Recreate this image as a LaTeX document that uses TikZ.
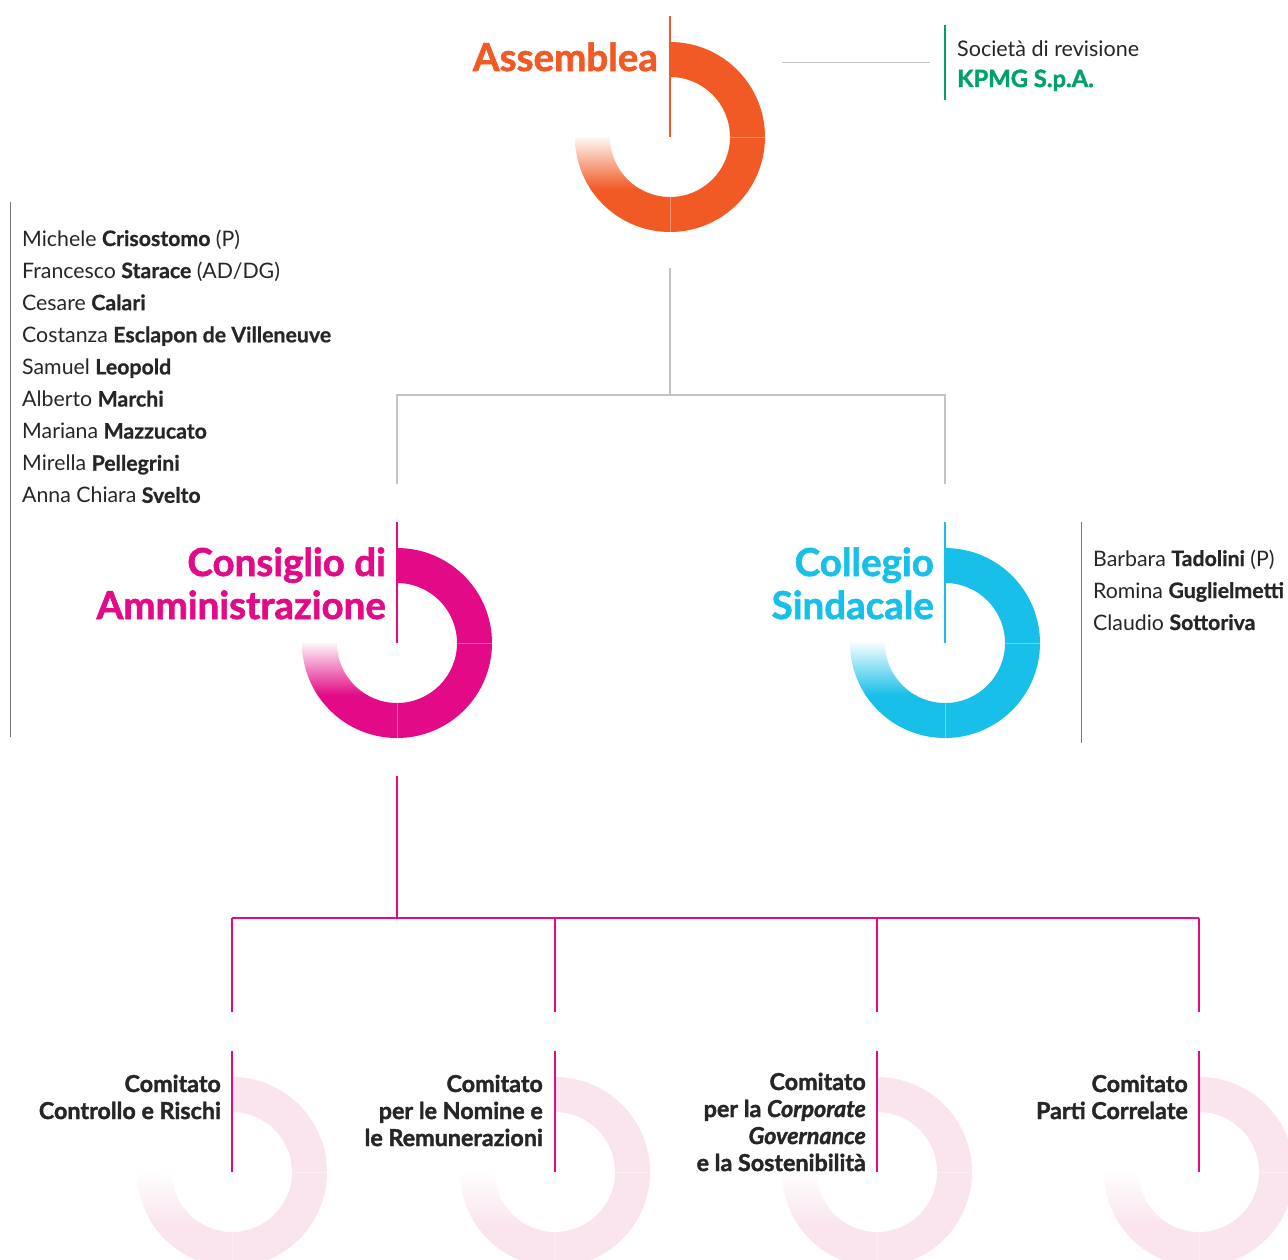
\documentclass[tikz,border=0pt]{standalone}
\usepackage{fontspec}
\setmainfont{Lato}[BoldFeatures={FakeBold=0.8}]
\newfontfamily\heavyfont{Lato}[BoldFeatures={FakeBold=1.6},BoldItalicFeatures={FakeBold=1.6}]
\definecolor{assorange}{RGB}{241,90,36}
\definecolor{cdamagenta}{RGB}{226,10,134}
\definecolor{cscyan}{RGB}{24,191,232}
\definecolor{kpmggreen}{RGB}{0,162,104}
\definecolor{palepink}{RGB}{250,229,238}
\definecolor{bodytext}{RGB}{38,38,38}
\definecolor{lightrule}{RGB}{195,195,195}
\definecolor{darkrule}{RGB}{120,120,120}

% A three-quarter donut: solid right half, faded lower-left quadrant.
% #1 = centre coordinate, #2 = colour
\newcommand\donut[2]{%
  \fill[#2] ([shift={(#1)}]-90:95) arc[start angle=-90,end angle=90,radius=95]
     -- ([shift={(#1)}]90:60) arc[start angle=90,end angle=-90,radius=60] -- cycle;
  \begin{scope}
    \clip ([shift={(#1)}]180:95) arc[start angle=180,end angle=90,radius=95]
       -- ([shift={(#1)}]90:60) arc[start angle=90,end angle=180,radius=60] -- cycle;
    \shade[top color=#2!4, bottom color=#2] ([shift={(#1)}]-97,0) rectangle ([shift={(#1)}]1,52);
    \fill[#2] ([shift={(#1)}]-97,52) rectangle ([shift={(#1)}]1,97);
  \end{scope}
  \draw[white, opacity=.35, line width=.8]
     ([shift={(#1)}]0:60) -- ([shift={(#1)}]0:95)
     ([shift={(#1)}]90:60) -- ([shift={(#1)}]90:95);
}

\tikzset{
  title/.style={anchor=base east, inner sep=0, font=\heavyfont\fontsize{38.5}{43}\selectfont\bfseries},
  member/.style={anchor=base west, inner sep=0, text=bodytext, font=\fontsize{21.3}{25}\selectfont},
  cttee/.style={anchor=base east, inner sep=0, text=bodytext, font=\heavyfont\fontsize{23.3}{27}\selectfont\bfseries},
  greyconn/.style={draw=lightrule, line width=1.1pt},
  pinkconn/.style={draw=cdamagenta, line width=1.1pt},
  spine/.style={line width=1.1pt},
}

\begin{document}
\begin{tikzpicture}[x=1pt,y=-1pt]
\useasboundingbox (0,0) rectangle (1288,1259);
\clip (0,0) rectangle (1288,1259);

% ---------- ring centres ----------
\coordinate (ass) at (670,137);
\coordinate (cda) at (397,643);
\coordinate (cs)  at (945,643);
\coordinate (c1)  at (232,1172);
\coordinate (c2)  at (555,1172);
\coordinate (c3)  at (877,1172);
\coordinate (c4)  at (1199,1172);

% ---------- Assemblea ----------
\donut{ass}{assorange}
\draw[spine, assorange] (670,16) coordinate (asstop) -- (ass);
\node[title, text=assorange] (asst) at (658,71) {Assemblea};

% auditor
\coordinate (audA) at (782,62);
\coordinate (audB) at (930,62);
\draw[greyconn, line width=0.9pt] (audA) -- (audB);
\draw[kpmggreen, line width=1.2pt] (945,25) coordinate (kt) -- (945,100) coordinate (kb);
\node[member, font=\fontsize{21.5}{25}\selectfont] (soc) at (957,56) {Società di revisione};
\node[anchor=base west, inner sep=0, text=kpmggreen, font=\heavyfont\fontsize{23.8}{26}\selectfont\bfseries] (kpmg) at (957,87) {KPMG S.p.A.};

% ---------- Assemblea to boards ----------
\coordinate (a1) at (670,268);
\coordinate (a2) at (670,395);
\coordinate (a3) at (397,395);
\coordinate (a4) at (945,395);
\coordinate (a5) at (397,484);
\coordinate (a6) at (945,484);
\draw[greyconn] (a1) -- (a2) (a5) -- (a3) -- (a4) -- (a6);

% ---------- Consiglio di Amministrazione ----------
\donut{cda}{cdamagenta}
\draw[spine, cdamagenta] (397,522) coordinate (cdatop) -- (cda);
\node[title, text=cdamagenta] (cdat1) at (386,576) {Consiglio di};
\node[title, text=cdamagenta] (cdat2) at (386,619) {Amministrazione};

\draw[darkrule, line width=1pt] (10,202) coordinate (lt) -- (10,737) coordinate (lb);
\foreach \fn/\ln/\ex [count=\i from 0] in {
    Michele/Crisostomo/{\ (P)},
    Francesco/Starace/{\ (AD/DG)},
    Cesare/Calari/{},
    Costanza/Esclapon de Villeneuve/{},
    Samuel/Leopold/{},
    Alberto/Marchi/{},
    Mariana/Mazzucato/{},
    Mirella/Pellegrini/{},
    Anna Chiara/Svelto/{}}
  \node[member] (cdam\i) at (22,246+32.1*\i) {\fn\ \textbf{\ln}\ex};

% ---------- Collegio Sindacale ----------
\donut{cs}{cscyan}
\draw[spine, cscyan] (945,522) coordinate (cstop) -- (cs);
\node[title, text=cscyan] (cst1) at (934,576) {Collegio};
\node[title, text=cscyan] (cst2) at (934,619) {Sindacale};

\draw[darkrule, line width=1pt] (1081,522) coordinate (rt) -- (1081,743) coordinate (rb);
\foreach \fn/\ln/\ex [count=\i from 0] in {
    Barbara/Tadolini/{\ (P)},
    Romina/Guglielmetti/{},
    Claudio/Sottoriva/{}}
  \node[member] (csm\i) at (1093,566+32*\i) {\fn\ \textbf{\ln}\ex};

% ---------- board to committees ----------
\coordinate (b1) at (397,776);
\coordinate (b2) at (397,918);
\coordinate (h1) at (232,918);
\coordinate (h4) at (1199,918);
\draw[pinkconn] (b1) -- (b2) (h1) -- (h4);
\foreach \x [count=\k] in {232,555,877,1199}
  \draw[pinkconn] (\x,918) coordinate (d\k) -- (\x,1012) coordinate (e\k);

% ---------- committees ----------
\foreach \c in {c1,c2,c3,c4} {
  \donut{\c}{palepink}
  \draw[spine, cdamagenta] ([shift={(0,-121)}]\c) -- (\c);
}

\node[cttee] (k1a) at (221,1092) {Comitato};
\node[cttee] (k1b) at (221,1119) {Controllo e Rischi};

\node[cttee] (k2a) at (543,1092) {Comitato};
\node[cttee] (k2b) at (543,1119) {per le Nomine e};
\node[cttee] (k2c) at (543,1146) {le Remunerazioni};

\node[cttee] (k3a) at (866,1090) {Comitato};
\node[cttee] (k3b) at (866,1117) {per la \textit{Corporate}};
\node[cttee] (k3c) at (866,1144) {\textit{Governance}};
\node[cttee] (k3d) at (866,1171) {e la Sostenibilità};

\node[cttee] (k4a) at (1188,1092) {Comitato};
\node[cttee] (k4b) at (1188,1119) {Parti Correlate};
\end{tikzpicture}
\end{document}
